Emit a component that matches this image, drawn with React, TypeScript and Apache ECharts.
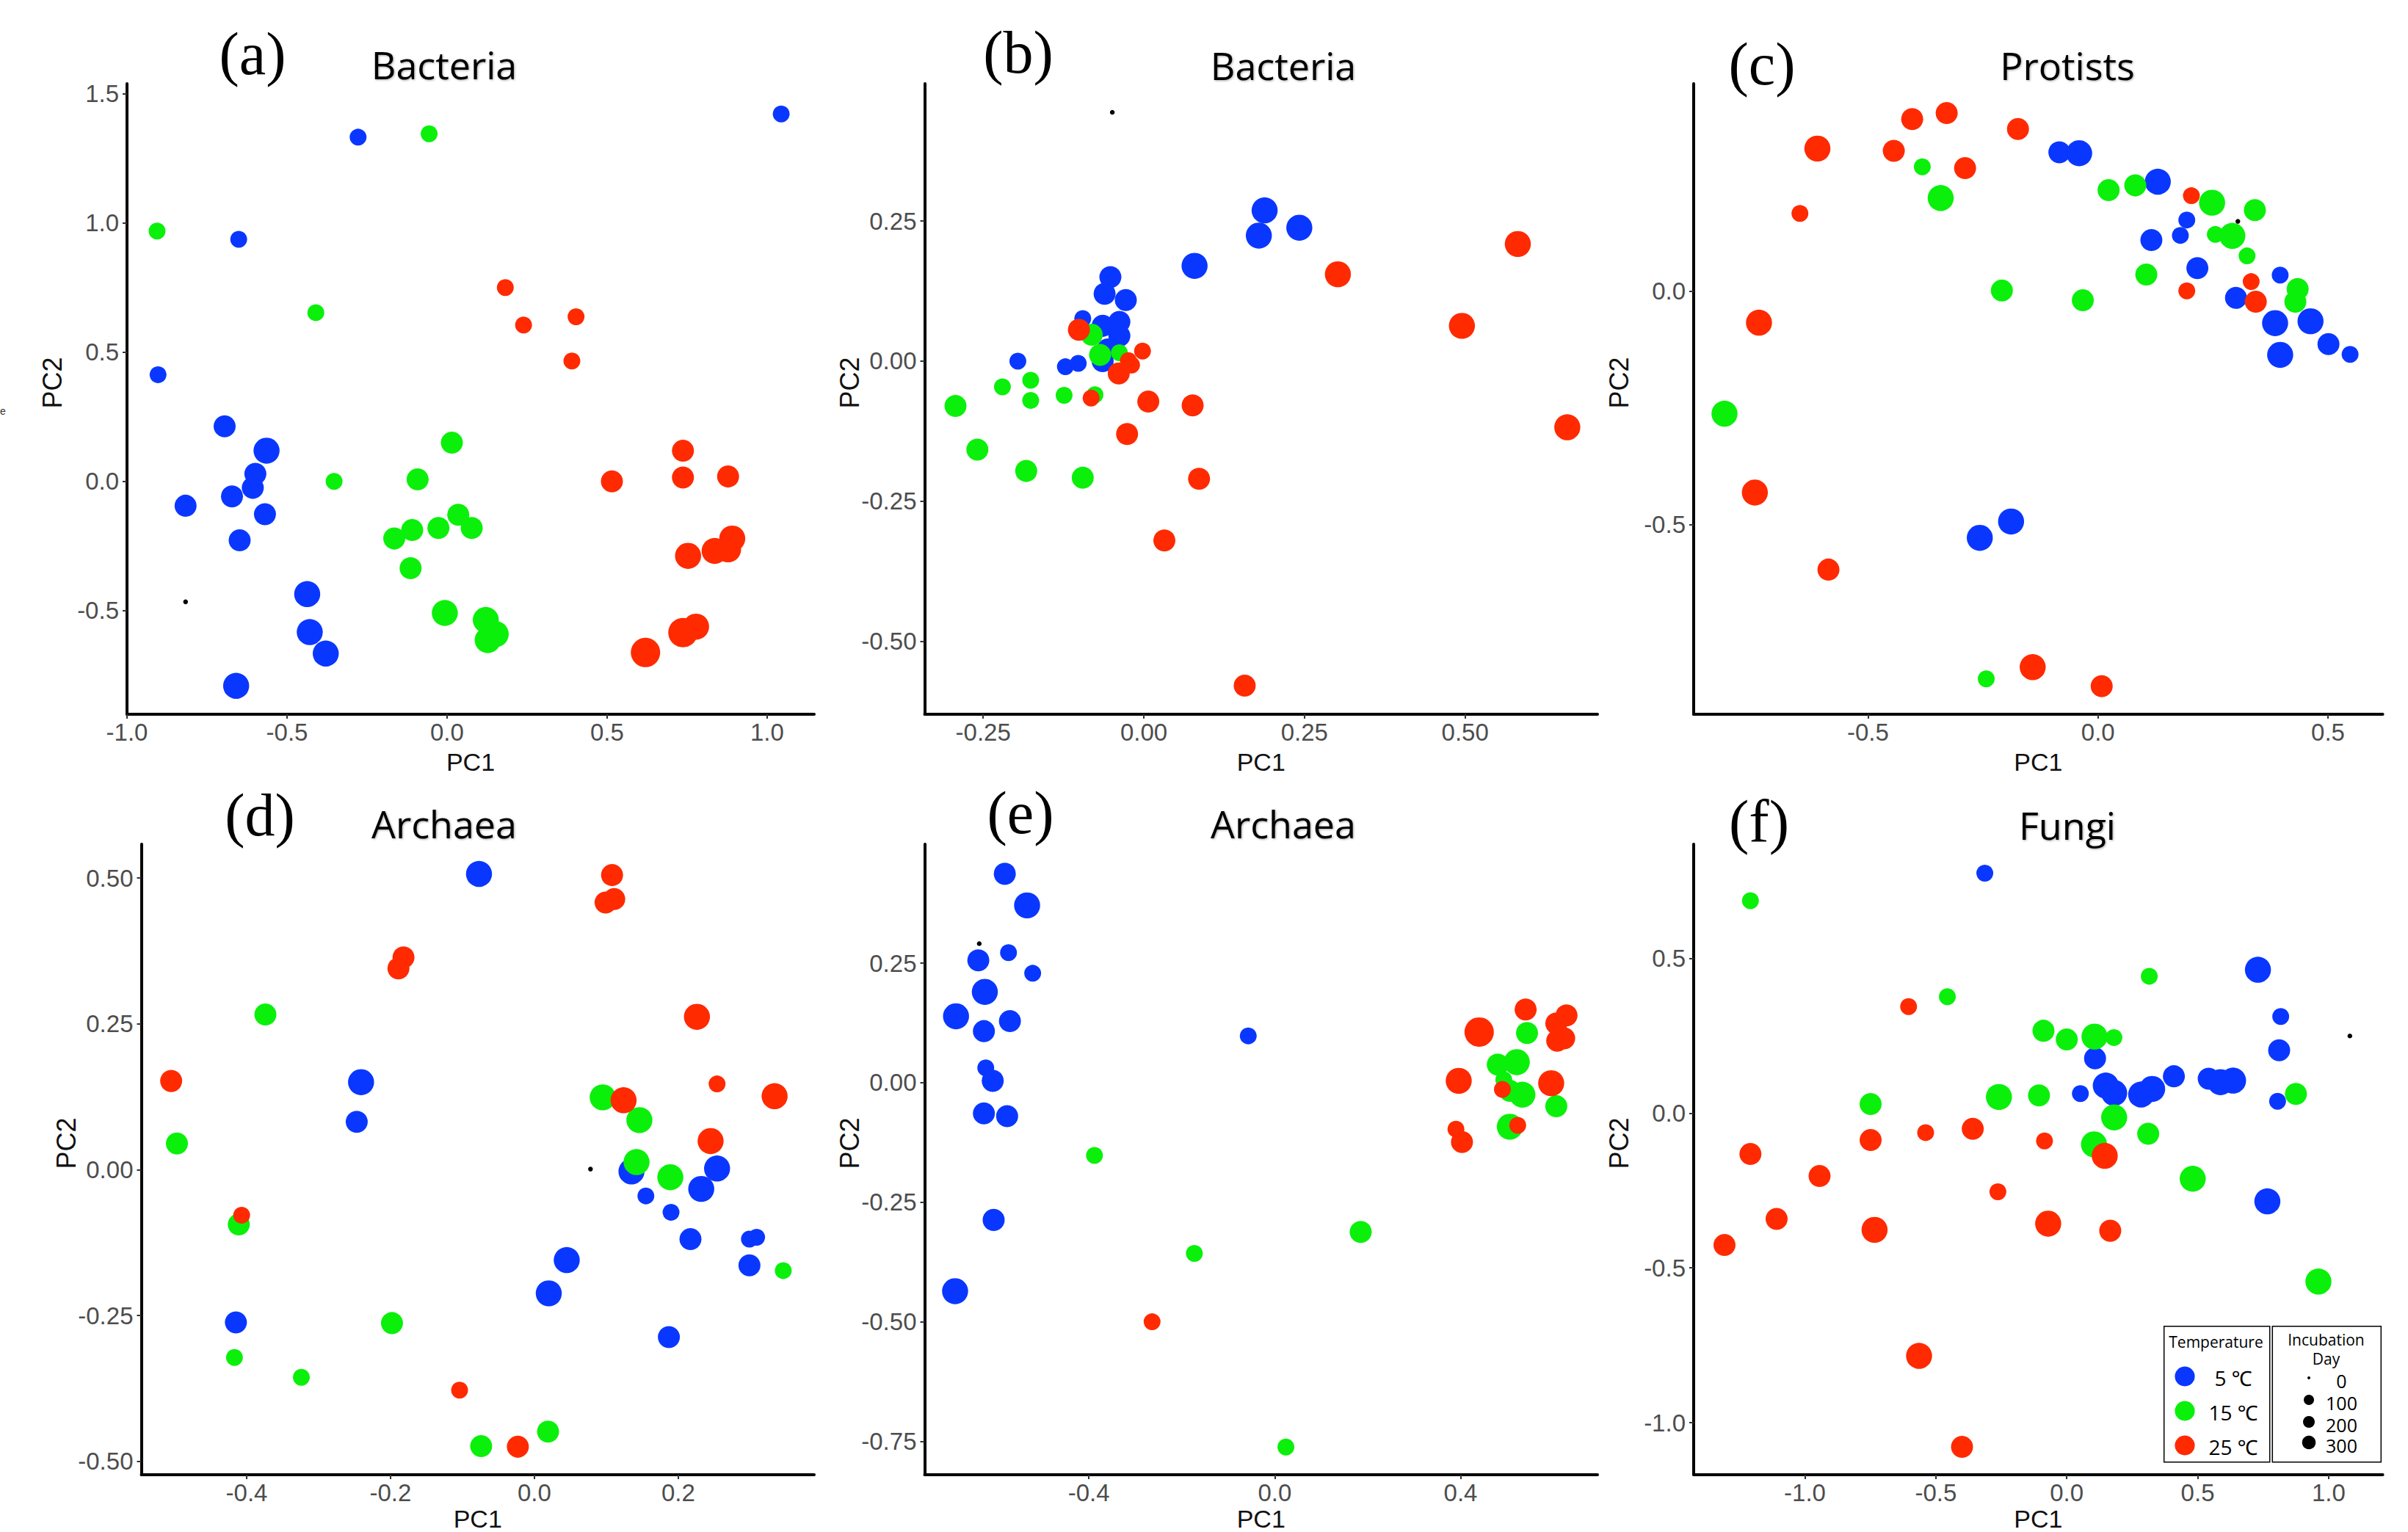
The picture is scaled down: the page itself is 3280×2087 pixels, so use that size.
import React, { useEffect, useRef } from "react";
import * as echarts from "echarts";

// ---------- DATA: [PC1, PC2, incubation day] ----------
// Panel (a) Bacteria
const aBlue = [[-0.278,1.332,90],[1.044,1.422,90],[-0.651,0.937,90],[-0.903,0.413,90],[-0.695,0.213,180],[-0.564,0.119,270],[-0.599,0.029,180],[-0.607,-0.025,180],[-0.672,-0.058,180],[-0.817,-0.094,180],[-0.569,-0.127,180],[-0.648,-0.228,180],[-0.437,-0.436,270],[-0.429,-0.583,270],[-0.379,-0.666,270],[-0.659,-0.791,270]];
const aGreen = [[-0.056,1.345,90],[-0.906,0.969,90],[-0.41,0.653,90],[-0.353,0.0,90],[0.015,0.15,180],[-0.092,0.008,180],[0.035,-0.129,180],[0.077,-0.18,180],[-0.027,-0.18,180],[-0.109,-0.188,180],[-0.165,-0.221,180],[-0.114,-0.336,180],[-0.007,-0.509,270],[0.121,-0.536,270],[0.152,-0.591,270],[0.127,-0.614,270]];
const aRed = [[0.182,0.75,90],[0.239,0.605,90],[0.403,0.637,90],[0.39,0.466,90],[0.515,0.0,180],[0.737,0.119,180],[0.737,0.015,180],[0.878,0.019,180],[0.891,-0.221,270],[0.878,-0.263,270],[0.836,-0.269,270],[0.753,-0.288,270],[0.737,-0.585,360],[0.778,-0.562,270],[0.62,-0.662,360]];
const aZero = [[-0.817,-0.466,0]];
const aXTicks = [-1.0,-0.5,0,0.5,1.0];
const aYTicks = [-0.5,0,0.5,1.0,1.5];

// Panel (b) Bacteria
const bBlue = [[0.188,0.269,270],[0.179,0.224,270],[0.242,0.238,270],[0.079,0.17,270],[-0.052,0.15,180],[-0.061,0.12,180],[-0.028,0.109,180],[-0.095,0.076,90],[-0.064,0.063,180],[-0.038,0.07,180],[-0.038,0.045,180],[-0.056,0.021,180],[-0.064,0.0,180],[-0.196,0.0,90],[-0.122,-0.01,90],[-0.102,-0.004,90]];
const bGreen = [[-0.293,-0.08,180],[-0.259,-0.158,180],[-0.183,-0.196,180],[-0.095,-0.208,180],[-0.22,-0.046,90],[-0.176,-0.034,90],[-0.176,-0.07,90],[-0.124,-0.061,90],[-0.076,-0.06,90],[-0.081,0.047,180],[-0.068,0.011,180],[-0.038,0.015,90]];
const bRed = [[-0.101,0.056,180],[-0.002,0.018,90],[-0.024,0.001,90],[-0.019,-0.007,90],[-0.039,-0.022,180],[-0.082,-0.066,90],[0.007,-0.072,180],[0.076,-0.079,180],[-0.026,-0.13,180],[0.086,-0.21,180],[0.032,-0.32,180],[0.157,-0.579,180],[0.302,0.155,270],[0.582,0.209,270],[0.495,0.063,270],[0.659,-0.118,270]];
const bZero = [[-0.049,0.444,0]];
const bXTicks = [-0.25,0,0.25,0.5];
const bYTicks = [-0.5,-0.25,0,0.25];

// Panel (c) Protists
const cBlue = [[-0.084,0.298,180],[-0.041,0.296,270],[0.13,0.235,270],[0.193,0.153,90],[0.179,0.12,90],[0.116,0.11,180],[0.216,0.05,180],[0.3,-0.014,180],[0.396,0.035,90],[0.385,-0.068,270],[0.462,-0.064,270],[0.396,-0.136,270],[0.501,-0.113,180],[0.548,-0.135,90],[-0.257,-0.528,270],[-0.189,-0.493,270]];
const cGreen = [[-0.382,0.267,90],[-0.342,0.2,270],[0.023,0.217,180],[0.081,0.227,180],[0.248,0.19,270],[0.341,0.174,180],[0.255,0.122,90],[0.292,0.119,270],[0.324,0.076,90],[0.105,0.036,180],[-0.209,0.002,180],[-0.033,-0.019,180],[0.434,0.005,180],[0.429,-0.022,180],[-0.812,-0.262,270],[-0.243,-0.83,90]];
const cRed = [[-0.61,0.306,270],[-0.404,0.369,180],[-0.329,0.382,180],[-0.174,0.348,180],[-0.444,0.301,180],[-0.289,0.264,180],[-0.648,0.167,90],[0.203,0.205,90],[0.333,0.021,90],[0.193,0.001,90],[0.343,-0.022,180],[-0.737,-0.067,270],[-0.746,-0.431,270],[-0.586,-0.596,180],[-0.142,-0.805,270],[0.008,-0.846,180]];
const cZero = [[0.304,0.15,0]];
const cXTicks = [-0.5,0,0.5];
const cYTicks = [-0.5,0];

// Panel (d) Archaea
const dBlue = [[-0.077,0.507,270],[-0.241,0.15,270],[-0.247,0.082,180],[-0.415,-0.262,180],[0.045,-0.155,270],[0.02,-0.212,270],[0.187,-0.287,180],[0.135,-0.003,270],[0.155,-0.045,90],[0.19,-0.073,90],[0.217,-0.119,180],[0.232,-0.033,270],[0.254,0.002,270],[0.299,-0.119,90],[0.309,-0.116,90],[0.299,-0.164,180]];
const dGreen = [[-0.374,0.266,180],[-0.497,0.045,180],[-0.411,-0.094,180],[-0.417,-0.322,90],[-0.324,-0.356,90],[-0.198,-0.263,180],[-0.074,-0.474,180],[0.019,-0.449,180],[0.095,0.124,270],[0.146,0.085,270],[0.142,0.013,270],[0.189,-0.013,270],[0.346,-0.173,90]];
const dRed = [[-0.505,0.152,180],[-0.407,-0.078,90],[-0.189,0.345,180],[-0.182,0.364,180],[0.108,0.505,180],[0.099,0.458,180],[0.111,0.464,180],[0.226,0.262,270],[0.254,0.147,90],[0.334,0.126,270],[0.124,0.119,270],[0.245,0.049,270],[-0.104,-0.378,90],[-0.023,-0.475,180]];
const dZero = [[0.078,0.001,0]];
const dXTicks = [-0.4,-0.2,0,0.2];
const dYTicks = [-0.5,-0.25,0,0.25,0.5];

// Panel (e) Archaea
const eBlue = [[-0.581,0.437,180],[-0.533,0.371,270],[-0.573,0.272,90],[-0.521,0.229,90],[-0.638,0.256,180],[-0.624,0.19,270],[-0.686,0.139,270],[-0.57,0.129,180],[-0.626,0.108,180],[-0.622,0.031,90],[-0.607,0.004,180],[-0.626,-0.064,180],[-0.576,-0.07,180],[-0.605,-0.287,180],[-0.688,-0.436,270],[-0.057,0.098,90]];
const eGreen = [[-0.388,-0.152,90],[-0.173,-0.357,90],[0.185,-0.312,180],[0.024,-0.762,90],[0.543,0.104,180],[0.48,0.038,180],[0.521,0.043,270],[0.493,0.006,90],[0.506,-0.017,180],[0.533,-0.025,270],[0.606,-0.049,180],[0.506,-0.092,270]];
const eRed = [[-0.264,-0.5,90],[0.44,0.106,360],[0.54,0.153,180],[0.606,0.124,180],[0.628,0.141,180],[0.608,0.088,180],[0.623,0.093,180],[0.396,0.004,270],[0.595,-0.001,270],[0.49,-0.014,90],[0.39,-0.097,90],[0.403,-0.124,180],[0.523,-0.089,90]];
const eZero = [[-0.636,0.291,0]];
const eXTicks = [-0.4,0,0.4];
const eYTicks = [-0.75,-0.5,-0.25,0,0.25];

// Panel (f) Fungi
const fBlue = [[-0.313,0.775,90],[0.73,0.463,270],[0.817,0.312,90],[0.811,0.203,180],[0.805,0.038,90],[0.108,0.177,180],[0.052,0.063,90],[0.149,0.089,270],[0.181,0.065,270],[0.284,0.06,270],[0.326,0.078,270],[0.409,0.119,180],[0.542,0.111,180],[0.587,0.1,270],[0.635,0.105,270],[0.766,-0.285,270]];
const fGreen = [[-1.208,0.686,90],[-0.456,0.376,90],[0.315,0.442,90],[-0.089,0.266,180],[0.0,0.238,180],[0.106,0.247,270],[0.18,0.244,90],[-0.749,0.029,180],[-0.259,0.052,270],[-0.106,0.057,180],[0.181,-0.014,270],[0.311,-0.067,180],[0.104,-0.101,270],[0.481,-0.212,270],[0.875,0.062,180],[0.961,-0.544,270]];
const fRed = [[-0.604,0.344,90],[-1.208,-0.132,180],[-0.749,-0.087,180],[-0.539,-0.063,90],[-0.359,-0.051,180],[-0.085,-0.09,90],[-0.944,-0.203,180],[-1.108,-0.342,180],[-1.307,-0.426,180],[-0.734,-0.377,270],[-0.263,-0.254,90],[-0.071,-0.357,270],[0.166,-0.38,180],[0.145,-0.138,270],[-0.564,-0.784,270],[-0.4,-1.078,180]];
const fZero = [[1.081,0.249,0]];
const fXTicks = [-1.0,-0.5,0,0.5,1.0];
const fYTicks = [-1.0,-0.5,0,0.5];

const temperatureLabels = ["5 \u2103", "15 \u2103", "25 \u2103"];
const dayLegendValues = [0, 100, 200, 300];

// ---------- STYLE ----------
const BLUE = "#0A37FF";
const GREEN = "#0AF00A";
const RED = "#FF2A00";
const TEMP_COLORS = [BLUE, GREEN, RED];

const panels = [
  { label: "(a)", title: "Bacteria", blue: aBlue, green: aGreen, red: aRed, zero: aZero, xr: [-1.0, 1.147], yr: [-0.901, 1.539], xt: aXTicks, yt: aYTicks, xd: 1, yd: 1,
    grid: { left: 173, top: 114, width: 936, height: 859 }, lab: [344, 73], tit: [605, 87], pc1Gap: 65 },
  { label: "(b)", title: "Bacteria", blue: bBlue, green: bGreen, red: bRed, zero: bZero, xr: [-0.341, 0.706], yr: [-0.63, 0.495], xt: bXTicks, yt: bYTicks, xd: 2, yd: 2,
    grid: { left: 1259.5, top: 114, width: 916.5, height: 859 }, lab: [1387, 71], tit: [1748, 88], pc1Gap: 65 },
  { label: "(c)", title: "Protists", blue: cBlue, green: cGreen, red: cRed, zero: cZero, xr: [-0.879, 0.619], yr: [-0.906, 0.445], xt: cXTicks, yt: cYTicks, xd: 1, yd: 1,
    grid: { left: 2307, top: 114, width: 938.6, height: 859 }, lab: [2400, 87], tit: [2816, 88], pc1Gap: 65 },
  { label: "(d)", title: "Archaea", blue: dBlue, green: dGreen, red: dRed, zero: dZero, xr: [-0.5465, 0.389], yr: [-0.523, 0.558], xt: dXTicks, yt: dYTicks, xd: 1, yd: 2,
    grid: { left: 192.5, top: 1150, width: 916.5, height: 859 }, lab: [354, 1110], tit: [605, 1121], pc1Gap: 60 },
  { label: "(e)", title: "Archaea", blue: eBlue, green: eGreen, red: eRed, zero: eZero, xr: [-0.7535, 0.6947], yr: [-0.82, 0.499], xt: eXTicks, yt: eYTicks, xd: 1, yd: 2,
    grid: { left: 1259.5, top: 1150, width: 916.5, height: 859 }, lab: [1390, 1107], tit: [1748, 1121], pc1Gap: 60 },
  { label: "(f)", title: "Fungi", blue: fBlue, green: fGreen, red: fRed, zero: fZero, xr: [-1.4247, 1.2066], yr: [-1.168, 0.8685], xt: fXTicks, yt: fYTicks, xd: 1, yd: 1,
    grid: { left: 2307, top: 1150, width: 938.6, height: 859 }, lab: [2396, 1119], tit: [2816, 1123], pc1Gap: 60 },
];

const sizeOf = (v: any) => (v[2] === 0 ? 6.5 : 6 + 34 * Math.sqrt(v[2] / 360));

function buildOption() {
  const grids: any[] = [];
  const xAxes: any[] = [];
  const yAxes: any[] = [];
  const series: any[] = [];
  const graphics: any[] = [];
  const tickLabelStyle = { color: "#4D4D4D", fontSize: 33, fontFamily: '"Liberation Sans", Arial, sans-serif' };

  panels.forEach((p, i) => {
    grids.push({ ...p.grid, containLabel: false });
    xAxes.push({
      type: "value", gridIndex: i, min: p.xr[0], max: p.xr[1],
      axisLine: { show: true, onZero: false, lineStyle: { color: "#000", width: 4 } },
      axisTick: { show: true, length: 6, customValues: p.xt, lineStyle: { color: "#333", width: 2 } },
      axisLabel: { show: true, customValues: p.xt, formatter: (v: number) => v.toFixed(p.xd), margin: 8, ...tickLabelStyle },
      splitLine: { show: false },
    });
    yAxes.push({
      type: "value", gridIndex: i, min: p.yr[0], max: p.yr[1],
      axisLine: { show: true, onZero: false, lineStyle: { color: "#000", width: 4 } },
      axisTick: { show: true, length: 6, customValues: p.yt, lineStyle: { color: "#333", width: 2 } },
      axisLabel: { show: true, customValues: p.yt, formatter: (v: number) => v.toFixed(p.yd), margin: 11, ...tickLabelStyle },
      splitLine: { show: false },
    });
    const groups: [any[], string, string][] = [
      [p.blue, BLUE, "5"], [p.green, GREEN, "15"], [p.red, RED, "25"], [p.zero, "#000", "0"],
    ];
    groups.forEach(([data, color, name]) => {
      series.push({
        type: "scatter", name, xAxisIndex: i, yAxisIndex: i, data,
        symbol: "circle", symbolSize: sizeOf, clip: false,
        itemStyle: { color, opacity: 1 }, emphasis: { disabled: true },
      });
    });

    const g = p.grid;
    const cx = g.left + g.width / 2;
    const pc1y = g.top + g.height + p.pc1Gap;
    const pc2x = g.left - 102;
    const cy = g.top + g.height / 2 - 22;
    graphics.push(
      { type: "text", x: p.lab[0], y: p.lab[1], style: { text: p.label, font: '82px "Liberation Serif", "Times New Roman", serif', fill: "#000", align: "center", verticalAlign: "middle", textAlign: "center", textVerticalAlign: "middle" } },
      { type: "text", x: p.tit[0], y: p.tit[1], style: { text: p.title, font: '52px "Open Sans", "Noto Sans", sans-serif', fill: "#000", align: "center", verticalAlign: "middle", textAlign: "center", textVerticalAlign: "middle", textShadowColor: "rgba(0,0,0,0.35)", textShadowBlur: 3, textShadowOffsetX: 1, textShadowOffsetY: 1 } },
      { type: "text", x: cx, y: pc1y, style: { text: "PC1", font: '34px "Liberation Sans", Arial, sans-serif', fill: "#111", align: "center", verticalAlign: "middle", textAlign: "center", textVerticalAlign: "middle" } },
      { type: "text", x: pc2x, y: cy, rotation: Math.PI / 2, style: { text: "PC2", font: '36px "Liberation Sans", Arial, sans-serif', fill: "#111", align: "center", verticalAlign: "middle", textAlign: "center", textVerticalAlign: "middle" } },
    );
  });

  // stray cropped character at far left
  graphics.push({ type: "text", x: 4, y: 560, style: { text: "e", font: '14px "Liberation Sans", Arial', fill: "#333", align: "center", verticalAlign: "middle", textAlign: "center", textVerticalAlign: "middle" } });

  // Legend
  const lg: any[] = [];
  const legFont = '"Open Sans", "Noto Sans", "Noto Sans CJK SC", sans-serif';
  lg.push({ type: "rect", shape: { x: 2947.7, y: 1806.7, width: 144, height: 185 }, style: { fill: "#fff", stroke: "#000", lineWidth: 1.5 } });
  lg.push({ type: "rect", shape: { x: 3095.3, y: 1806.7, width: 148, height: 185 }, style: { fill: "#fff", stroke: "#000", lineWidth: 1.5 } });
  lg.push({ type: "text", x: 3018.5, y: 1828, style: { text: "Temperature", font: `21px ${legFont}`, fill: "#000", align: "center", verticalAlign: "middle", textAlign: "center", textVerticalAlign: "middle" } });
  temperatureLabels.forEach((t, k) => {
    const yy = 1875 + k * 47;
    lg.push({ type: "circle", shape: { cx: 2976, cy: yy, r: 13.6 }, style: { fill: TEMP_COLORS[k] } });
    lg.push({ type: "text", x: 3042, y: yy + 2, style: { text: t, font: `28px ${legFont}`, fill: "#000", align: "center", verticalAlign: "middle", textAlign: "center", textVerticalAlign: "middle" } });
  });
  lg.push({ type: "text", x: 3168.5, y: 1825, style: { text: "Incubation", font: `21px ${legFont}`, fill: "#000", align: "center", verticalAlign: "middle", textAlign: "center", textVerticalAlign: "middle" } });
  lg.push({ type: "text", x: 3168.5, y: 1851, style: { text: "Day", font: `21px ${legFont}`, fill: "#000", align: "center", verticalAlign: "middle", textAlign: "center", textVerticalAlign: "middle" } });
  const dayDotR = [2, 7, 8, 9.3];
  const dayDotY = [1877, 1907, 1937, 1965];
  dayLegendValues.forEach((d, k) => {
    lg.push({ type: "circle", shape: { cx: 3145, cy: dayDotY[k], r: dayDotR[k] }, style: { fill: "#000" } });
    lg.push({ type: "text", x: 3189.5, y: dayDotY[k] + 4, style: { text: String(d), font: `25px ${legFont}`, fill: "#000", align: "center", verticalAlign: "middle", textAlign: "center", textVerticalAlign: "middle" } });
  });
  graphics.push({ type: "group", z: 100, children: lg });

  return {
    animation: false,
    backgroundColor: "#fff",
    grid: grids,
    xAxis: xAxes,
    yAxis: yAxes,
    series,
    graphic: { elements: graphics },
  };
}

export default function App() {
  const ref = useRef<HTMLDivElement>(null);
  useEffect(() => {
    if (!ref.current) return;
    const chart = echarts.init(ref.current, null, { renderer: "svg" });
    chart.setOption(buildOption() as any);
    return () => chart.dispose();
  }, []);
  return (
    <div
      ref={ref}
      style={{ position: "absolute", left: 0, top: 0, width: 3280, height: 2087, background: "#fff" }}
    />
  );
}
